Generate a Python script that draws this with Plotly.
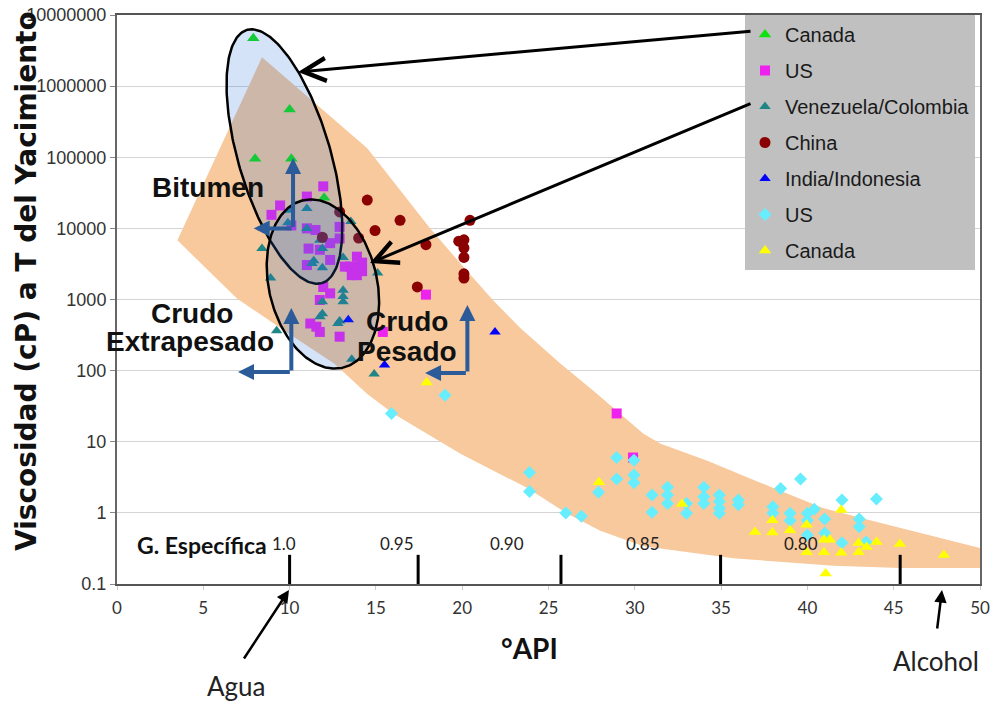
import numpy as np
import plotly.graph_objects as go

# ---------------- data ----------------
canada_bit_api = [7.9, 10.0, 8.0, 10.1, 12.0]
canada_bit_visc = [4.7e6, 4.7e5, 9.5e4, 9.5e4, 2.7e4]

us_heavy_api = [11.95, 11.0, 9.45, 8.95, 10.1, 11.0, 11.5, 12.9, 12.9, 11.1, 12.35, 11.75,
                11.0, 12.35, 13.2, 13.9, 13.9, 13.9, 13.5, 13.6, 14.2, 14.2, 11.95, 12.35,
                11.75, 11.2, 11.55, 11.75, 12.9, 17.9, 15.4, 28.95, 29.9]
us_heavy_visc = [3.9e4, 2.8e4, 2.1e4, 1.55e4, 1.1e4, 1.0e4, 9.5e3, 1.05e4, 7.2e3, 5.2e3, 6.2e3, 5.0e3,
                 3.05e3, 3.6e3, 2.9e3, 4.0e3, 2.9e3, 2.2e3, 2.9e3, 2.2e3, 3.3e3, 2.5e3, 1.5e3, 1.22e3,
                 985, 460, 415, 350, 300, 1.17e3, 350, 25, 6.0]

vc_api = [10.0, 11.0, 9.9, 11.0, 8.4, 11.75, 11.9, 11.4, 11.9, 13.55, 13.1, 8.9, 13.1,
          13.1, 13.1, 11.9, 11.9, 12.9, 9.25, 15.1, 13.6, 14.9, 11.3, 11.76, 12.8]
vc_visc = [1.8e4, 1.9e4, 1.2e4, 1.0e4, 5.2e3, 6.8e3, 5.2e3, 3.5e3, 2.8e3, 1.25e4, 3.9e3, 2.0e3, 1.35e3,
           1.1e3, 930, 930, 630, 500, 365, 2.35e3, 145, 90, 3.2e3, 570, 460]

china_api = [12.9, 14.5, 14.95, 14.0, 11.9, 16.4, 17.9, 20.45, 19.8, 20.1, 20.1, 20.1, 20.1, 20.1, 17.4]
china_visc = [1.7e4, 2.5e4, 9.3e3, 7.3e3, 7.5e3, 1.3e4, 5.9e3, 1.3e4, 6.6e3, 6.9e3, 5.3e3, 3.9e3,
              2.3e3, 2.0e3, 1.5e3]

india_api = [21.9, 15.5, 13.4]
india_visc = [350, 120, 520]

us_light_api = [19.0, 15.9, 23.9, 23.9, 26.0, 26.9, 28.95, 28.95, 27.9, 29.95, 29.95, 29.95,
                31.0, 31.0, 31.9, 31.9, 31.9, 33.0, 33.0, 34.0, 34.0, 34.0, 34.9, 34.9, 34.9, 34.9,
                36.0, 36.0, 38.45, 39.6, 38.0, 38.0, 39.0, 39.0, 40.0, 40.0, 40.0, 40.4, 41.0, 41.0,
                42.0, 42.0, 43.0, 43.0, 44.0, 43.4]
us_light_visc = [45, 25, 3.7, 2.0, 1.0, 0.9, 6.0, 3.0, 1.95, 5.5, 3.4, 2.65,
                 1.78, 1.02, 2.29, 1.78, 1.36, 1.36, 0.99, 2.29, 1.69, 1.36, 1.78, 1.44, 1.16, 0.99,
                 1.52, 1.3, 2.2, 3.0, 1.22, 0.99, 0.99, 0.78, 0.99, 0.79, 0.49, 1.12, 0.82, 0.52,
                 1.52, 0.38, 0.82, 0.64, 1.57, 0.39]

canada_light_api = [17.94, 27.93, 32.73, 36.96, 37.97, 37.97, 38.99, 39.96, 39.96, 40.96, 40.96,
                    41.3, 41.96, 41.96, 42.97, 42.97, 43.43, 44.01, 45.36, 47.91, 41.06]
canada_light_visc = [68, 2.7, 1.33, 0.54, 0.79, 0.53, 0.57, 0.68, 0.28, 0.42, 0.28,
                     0.42, 1.1, 0.275, 0.377, 0.28, 0.33, 0.39, 0.366, 0.256, 0.141]

band_upper_api = [3.5, 8.4, 14.5, 18.1, 19.9, 21.8, 23.35, 25.7, 27.6, 29.1, 30.5, 31.5,
                  34.2, 38.0, 40.9, 43.8, 46.7, 50.0]
band_upper_visc = [6800, 2.55e6, 1.34e5, 1.03e4, 3200, 970, 400, 125, 52, 25, 13, 9.4,
                   5.4, 2.25, 1.17, 0.77, 0.51, 0.32]
band_lower_api = [50.0, 45.4, 41.5, 35.7, 30.5, 28.0, 26.1, 23.75, 19.9, 16.0, 14.5, 12.6, 9.7, 6.95]
band_lower_visc = [0.168, 0.168, 0.18, 0.23, 0.34, 0.56, 0.97, 2.25, 6.8, 25, 47, 125, 365, 1030]

sg_values = [1.0, 0.95, 0.90, 0.85, 0.80]
sg_labels = ["1.0", "0.95", "0.90", "0.85", "0.80"]
sg_label_api = [9.7, 16.2, 22.6, 30.5, 39.6]

y_tickvals = [0.1, 1, 10, 100, 1000, 1e4, 1e5, 1e6, 1e7]
y_ticktext = ["0.1", "1", "10", "100", "1000", "10000", "100000", "1000000", "10000000"]
x_tickvals = list(range(0, 51, 5))

# ---------------- layout constants ----------------
W, H = 997, 702
M_L, M_R, M_T, M_B = 117, 17, 15, 118
X_MIN, X_MAX = 0, 50
LY_MIN, LY_MAX = -1, 7
PW = W - M_L - M_R
PH = H - M_T - M_B
px_api = PW / (X_MAX - X_MIN)
px_dec = PH / (LY_MAX - LY_MIN)

ARIAL = "Liberation Sans, Arial, sans-serif"
CAL = "Lato, Liberation Sans, sans-serif"

fig = go.Figure()

# orange band
fig.add_trace(go.Scatter(
    x=band_upper_api + band_lower_api + [band_upper_api[0]],
    y=band_upper_visc + band_lower_visc + [band_upper_visc[0]],
    mode="lines", fill="toself", fillcolor="#f7c99d", line=dict(width=0),
    showlegend=False, hoverinfo="skip"))

# specific-gravity tick marks
sg_api = [141.5 / s - 131.5 for s in sg_values]
tx, ty = [], []
for a in sg_api:
    tx += [a, a, None]
    ty += [0.1, 10 ** -0.59, None]
fig.add_trace(go.Scatter(x=tx, y=ty, mode="lines", line=dict(color="black", width=3),
                         showlegend=False, hoverinfo="skip", cliponaxis=False))

series = [
    ("Canada", canada_bit_api, canada_bit_visc, "triangle-up", "#11e011", 11),
    ("US", us_heavy_api, us_heavy_visc, "square", "#ee22ee", 10),
    ("Venezuela/Colombia", vc_api, vc_visc, "triangle-up", "#1f8585", 10),
    ("China", china_api, china_visc, "circle", "#8b0000", 11),
    ("India/Indonesia", india_api, india_visc, "triangle-up", "#0000ff", 10),
    ("US", us_light_api, us_light_visc, "diamond", "#66eeff", 10),
    ("Canada", canada_light_api, canada_light_visc, "triangle-up", "#ffff00", 11),
]
for i, (name, xs, ys, sym, col, sz) in enumerate(series):
    fig.add_trace(go.Scatter(x=xs, y=ys, mode="markers", name=name, legendgroup=f"g{i}",
                             marker=dict(symbol=sym, color=col, size=sz, line=dict(width=0))))


def ellipse(c_api, c_log, a, b, ux, uy, n=240):
    t = np.linspace(0, 2 * np.pi, n)
    vx, vy = uy, -ux
    dx = a * np.cos(t) * ux + b * np.sin(t) * vx
    dy = a * np.cos(t) * uy + b * np.sin(t) * vy
    return c_api + dx / px_api, 10 ** (c_log - dy / px_dec)


for (ca, cl, a, b, ux, uy) in [(9.70, 5.01, 132, 46, 0.284, 0.959),
                               (11.93, 3.218, 86, 54, 0.232, 0.973)]:
    ex, ey = ellipse(ca, cl, a, b, ux, uy)
    fig.add_trace(go.Scatter(x=ex, y=ey, mode="lines", fill="toself",
                             fillcolor="rgba(40,115,215,0.2)",
                             line=dict(color="black", width=2.5),
                             showlegend=False, hoverinfo="skip"))

ann = []


def arrow(x, y, ax, ay, color, width, head, size):
    ann.append(dict(x=x, y=y, ax=ax, ay=ay, xref="x", yref="y", axref="x", ayref="y",
                    showarrow=True, arrowhead=head, arrowsize=size, arrowwidth=width,
                    arrowcolor=color, text="", standoff=0))


def label(x, y, text, size, bold=False, family=ARIAL, color="#111"):
    t = f"<b>{text}</b>" if bold else text
    ann.append(dict(x=x, y=y, xref="x", yref="y", text=t, showarrow=False,
                    xanchor="center", yanchor="middle",
                    font=dict(family=family, size=size, color=color)))


def plabel(px, py, text, size, bold=False, family=CAL, color="#222"):
    t = f"<b>{text}</b>" if bold else text
    ann.append(dict(x=(px - M_L) / PW, y=(H - M_B - py) / PH, xref="paper", yref="paper",
                    text=t, showarrow=False, xanchor="center", yanchor="middle",
                    font=dict(family=family, size=size, color=color)))


def parrow(px, py, dx, dy):
    ann.append(dict(x=(px - M_L) / PW, y=(H - M_B - py) / PH, xref="paper", yref="paper",
                    ax=dx, ay=dy, axref="pixel", ayref="pixel", text="", showarrow=True,
                    arrowhead=2, arrowsize=1.0, arrowwidth=2.5, arrowcolor="black", standoff=0))


# black pointer arrows (y in log10 units)
arrow(10.49, 6.199, 36.79, 6.775, "black", 3, 5, 1.5)
arrow(14.66, 3.513, 36.79, 5.763, "black", 3, 5, 1.5)

# blue L arrows
BLUE = "#2b5b98"
for (cx, cy, upy, leftx) in [(10.2, 4.0, 4.99, 7.92), (10.1, 1.98, 2.88, 7.01), (20.3, 1.967, 2.923, 17.85)]:
    arrow(cx, upy, cx, cy, BLUE, 4, 2, 0.8)
    arrow(leftx, cy, cx, cy, BLUE, 4, 2, 0.8)

label(5.3, 4.568, "Bitumen", 28, bold=True)
label(4.35, 2.81, "Crudo", 28, bold=True)
label(4.23, 2.416, "Extrapesado", 28, bold=True)
label(16.8, 2.684, "Crudo", 28, bold=True)
label(16.8, 2.262, "Pesado", 28, bold=True)
label(4.92, -0.452, "G. Específica", 23, bold=True, family=CAL)
for sx, st in zip(sg_label_api, sg_labels):
    label(sx, -0.424, st, 17, family=CAL, color="#222")

# texts / arrows below the plot area (paper coordinates)
plabel(529, 648, "°API", 28, bold=True, color="#111")
plabel(236, 686, "Agua", 26)
plabel(936, 661, "Alcohol", 26)
parrow(289, 590, -46, 70)
parrow(942, 590, -5, 40)

ann.append(dict(x=(26 - M_L) / PW, y=(H - M_B - 281) / PH, xref="paper", yref="paper",
                textangle=-90, xanchor="center", yanchor="middle",
                text="<b>Viscosidad (cP) a T del Yacimiento</b>", showarrow=False,
                font=dict(family="DejaVu Sans, sans-serif", size=28, color="#111")))

fig.update_layout(
    width=W, height=H,
    margin=dict(l=M_L, r=M_R, t=M_T, b=M_B, autoexpand=False),
    paper_bgcolor="white", plot_bgcolor="white",
    annotations=ann,
    showlegend=True,
    legend=dict(x=(745 - M_L) / PW, y=1, xanchor="left", yanchor="top",
                bgcolor="#c0c0c0", borderwidth=0, tracegroupgap=7,
                traceorder="grouped",
                font=dict(family=ARIAL, size=20, color="#1a1a1a")),
    xaxis=dict(range=[X_MIN, X_MAX], tickvals=x_tickvals, showgrid=False, zeroline=False,
               automargin=False,
               showline=True, linecolor="#555", linewidth=2, mirror=True,
               ticks="outside", ticklen=4, tickcolor="#ccc", ticklabelstandoff=4,
               tickfont=dict(family=CAL, size=17, color="#333")),
    yaxis=dict(type="log", range=[LY_MIN, LY_MAX], tickvals=y_tickvals, ticktext=y_ticktext,
               automargin=False,
               showgrid=True, gridcolor="#d4d4d4", gridwidth=1, zeroline=False,
               showline=True, linecolor="#666", linewidth=2, mirror=True,
               ticks="outside", ticklen=5, tickcolor="#888",
               tickfont=dict(family=ARIAL, size=18, color="#333")),
)

fig.write_html("out.html", config={"displayModeBar": False},
               post_script="document.body.style.margin='0px';document.body.style.overflow='hidden';")
